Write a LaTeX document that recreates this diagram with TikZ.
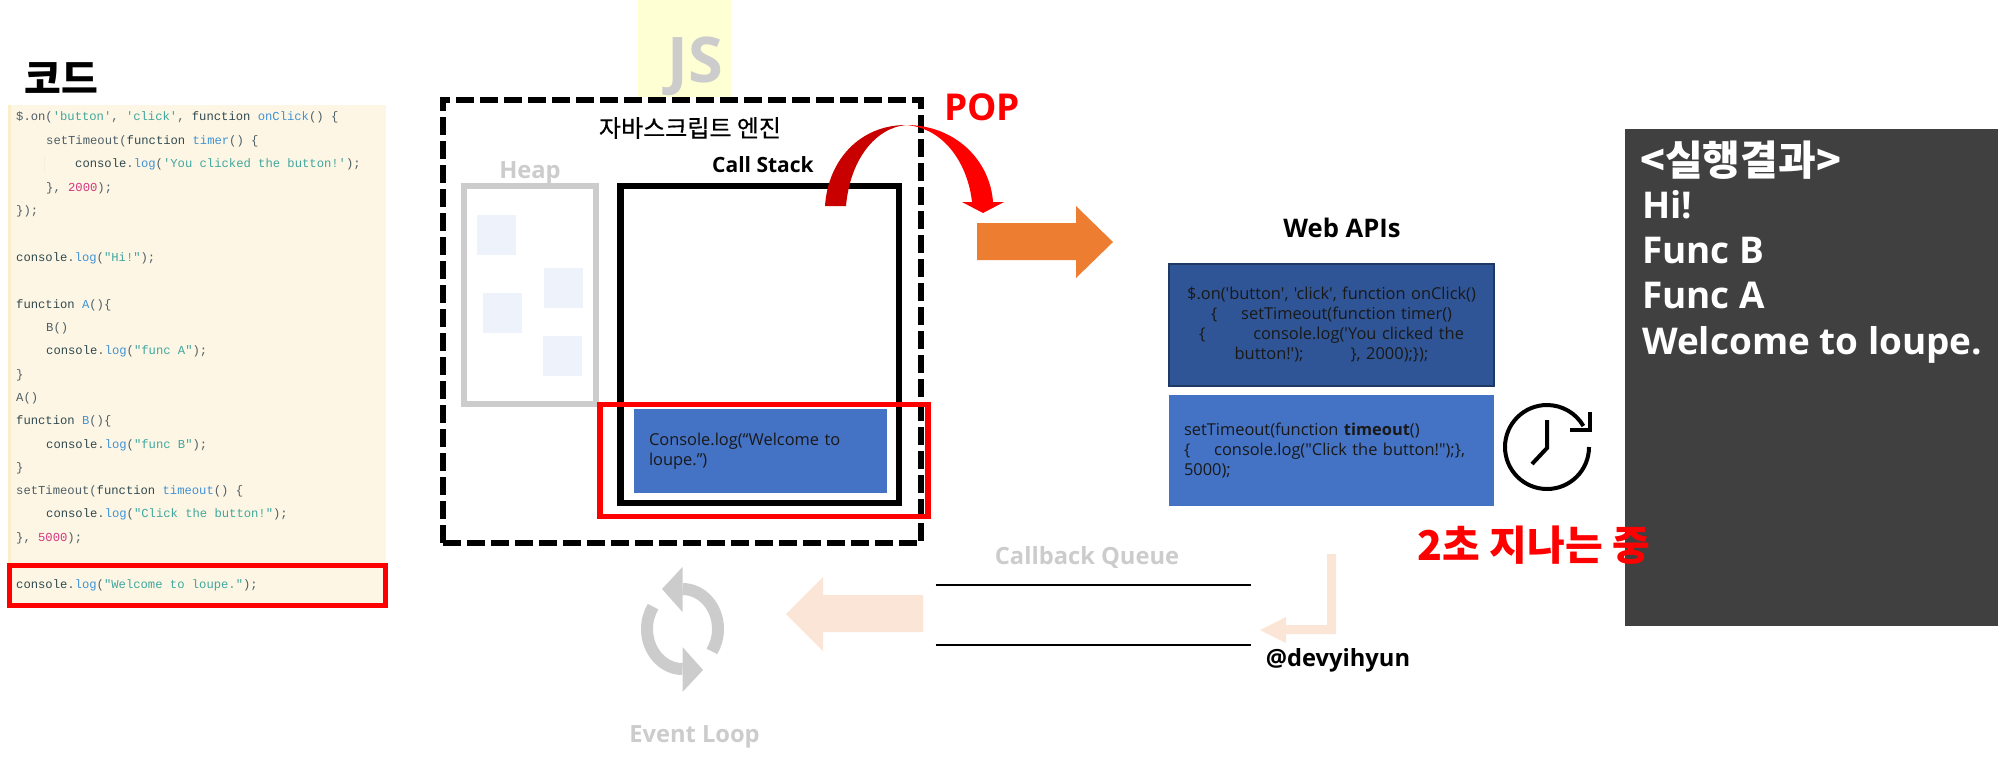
\documentclass[tikz,border=0pt]{standalone}
\usepackage{fontspec}
\usetikzlibrary{positioning}
\newfontfamily\uifont{Open Sans}
\newfontfamily\kofont{Noto Sans CJK KR}
\newfontfamily\komedium{Noto Sans CJK KR}[FakeBold=0.5]
\newfontfamily\codefont{Liberation Mono}
\definecolor{codebg}{HTML}{FEF6E4}
\definecolor{codestrip}{HTML}{FBEFCB}
\definecolor{codeguide}{HTML}{EFE8D6}
\definecolor{codetxt}{HTML}{4E5F66}
\definecolor{codefn}{HTML}{3F93D6}
\definecolor{codestr}{HTML}{3FA79E}
\definecolor{codenum}{HTML}{D33682}
\definecolor{codekey}{HTML}{2F4A50}
\definecolor{jsyellow}{HTML}{FFFFD4}
\definecolor{fadegray}{HTML}{CCCCCC}
\definecolor{heapfill}{HTML}{EEF2FA}
\definecolor{blockblue}{HTML}{4472C4}
\definecolor{darkblue}{HTML}{2F5597}
\definecolor{navyline}{HTML}{1F3864}
\definecolor{orangearrow}{HTML}{ED7D31}
\definecolor{peacharrow}{HTML}{FBE5D6}
\definecolor{darkpanel}{HTML}{404040}
\definecolor{popdark}{HTML}{C90000}
\newcommand{\fnname}[1]{\textcolor{codefn}{#1}}
\newcommand{\strlit}[1]{\textcolor{codestr}{#1}}
\newcommand{\numlit}[1]{\textcolor{codenum}{#1}}
\newcommand{\kwd}[1]{\textcolor{codekey}{#1}}
\tikzset{
  codeline/.style={anchor=west, inner sep=0pt, text=codetxt, font=\codefont\fontsize{12.2}{14}\selectfont},
  framebox/.style={draw, inner sep=0pt},
  blockbox/.style={inner sep=0pt, text=black!90, font=\uifont\fontsize{16.4}{20}\selectfont},
  heapsq/.style={fill=heapfill, inner sep=0pt, minimum width=39pt, minimum height=40pt},
  fadelabel/.style={inner sep=0pt, text=fadegray, font=\uifont\bfseries\fontsize{23.7}{28}\selectfont},
  blacklabel/.style={inner sep=0pt, font=\uifont\bfseries\fontsize{23.7}{28}\selectfont},
  resultline/.style={inner sep=0pt, anchor=base west, text=white, font=\uifont\bfseries\fontsize{36.9}{40}\selectfont},
}
\begin{document}
\begin{tikzpicture}[x=1pt, y=1pt, yscale=-1]
\useasboundingbox (0,0) rectangle (2004,764);

\node[inner sep=0pt, font=\kofont\bfseries\fontsize{40}{44}\selectfont] (codetitle) at (61,78) {코드};
\node[fill=codebg, inner sep=0pt, minimum width=378pt, minimum height=501pt] (codepanel) at (197,355.5) {};
\node[fill=codestrip, inner sep=0pt, minimum width=3pt, minimum height=458pt] (codestrip) at (9.5,334) {};
\coordinate (guidetop) at (44,157);
\coordinate (guidebot) at (44,172);
\draw[codeguide, line width=1pt, densely dotted] (guidetop) -- (guidebot);

\node[codeline] (c1) at (16,117) {\$.on(\strlit{'button'}, \strlit{'click'}, \kwd{function} \fnname{onClick}() \{};
\node[codeline] (c2) at (46,141) {setTimeout(\kwd{function} \fnname{timer}() \{};
\node[codeline] (c3) at (75,164) {\kwd{console}.\fnname{log}(\strlit{'You clicked the button!'});};
\node[codeline] (c4) at (46,188) {\}, \numlit{2000});};
\node[codeline] (c5) at (16,211) {\});};
\node[codeline] (c6) at (16,258) {\kwd{console}.\fnname{log}(\strlit{"Hi!"});};
\node[codeline] (c7) at (16,305) {\kwd{function} \fnname{A}()\{};
\node[codeline] (c8) at (46,328) {B()};
\node[codeline] (c9) at (46,351) {\kwd{console}.\fnname{log}(\strlit{"func A"});};
\node[codeline] (c10) at (16,375) {\}};
\node[codeline] (c11) at (16,398) {A()};
\node[codeline] (c12) at (16,421) {\kwd{function} \fnname{B}()\{};
\node[codeline] (c13) at (46,445) {\kwd{console}.\fnname{log}(\strlit{"func B"});};
\node[codeline] (c14) at (16,468) {\}};
\node[codeline] (c15) at (16,491) {setTimeout(\kwd{function} \fnname{timeout}() \{};
\node[codeline] (c16) at (46,514) {\kwd{console}.\fnname{log}(\strlit{"Click the button!"});};
\node[codeline] (c17) at (16,538) {\}, \numlit{5000});};
\node[codeline] (c18) at (16,585) {\kwd{console}.\fnname{log}(\strlit{"Welcome to loupe."});};
\node[framebox, red, line width=5pt, minimum width=376pt, minimum height=40pt] (coderedbox) at (197.5,585.5) {};

\node[fill=jsyellow, inner sep=0pt, minimum width=93pt, minimum height=97pt] (jsbox) at (684.5,48.5) {};
\node[inner sep=0pt, text=fadegray, font=\uifont\bfseries\fontsize{63}{70}\selectfont] (jslabel) at (695,66) {JS};

\node[framebox, line width=6pt, dash pattern=on 18pt off 6pt, minimum width=478pt, minimum height=443pt] (engine) at (682,321.5) {};
\node[inner sep=0pt, font=\komedium\fontsize{24}{28}\selectfont] (enginelabel) at (690,128) {자바스크립트 엔진};

\node[fadelabel] (heaplabel) at (530,173) {Heap};
\node[framebox, fadegray, line width=6pt, minimum width=131.5pt, minimum height=218pt] (heap) at (530,295) {};
\node[heapsq] (h1) at (496.5,235) {};
\node[heapsq] (h2) at (563.5,287.5) {};
\node[heapsq] (h3) at (502.5,313) {};
\node[heapsq] (h4) at (562.5,356) {};

\node[blacklabel, font=\uifont\bfseries\fontsize{21}{26}\selectfont] (stacklabel) at (763,165) {Call Stack};
\node[framebox, line width=6.5pt, minimum width=278.5pt, minimum height=317pt] (stack) at (759.75,344.5) {};
\node[blockbox, fill=blockblue, align=left, text width=222.5pt, inner xsep=15.5pt, minimum height=84pt] (welcome) at (760.25,451) {Console.log(“Welcome to\\loupe.”)};
\node[framebox, red, line width=5.5pt, minimum width=328pt, minimum height=112pt] (stackred) at (764,460.5) {};

\fill[popdark] (825,206) .. controls (828,160) and (860,125) .. (906,125) .. controls (875,128) and (850,160) .. (846,206) -- cycle;
\fill[red] (906,125) .. controls (955,125) and (990,160) .. (993,202) -- (1004,202) -- (983,213) -- (962,202) -- (972,202) .. controls (968,165) and (945,128) .. (906,125) -- cycle;
\node[inner sep=0pt, text=red, font=\uifont\bfseries\fontsize{37}{40}\selectfont] (poplabel) at (982,107) {POP};

\fill[orangearrow] (977,223) -- (1076,223) -- (1076,206) -- (1113,242) -- (1076,278) -- (1076,260) -- (977,260) -- cycle;

\node[blacklabel, font=\uifont\bfseries\fontsize{25.6}{30}\selectfont] (weblabel) at (1342,228) {Web APIs};
\node[blockbox, framebox, navyline, fill=darkblue, text=black!90, line width=2pt, align=center, text width=315pt, inner xsep=5pt, minimum height=122pt] (onclick) at (1331.5,325) {\$.on('button', 'click', function onClick()\\\{\hspace{24pt}setTimeout(function timer()\\\{\hspace{48pt}console.log('You clicked the\\button!');\hspace{47pt}\}, 2000);\});};
\node[blockbox, fill=blockblue, align=left, text width=295pt, inner xsep=15pt, minimum height=111pt] (timeoutbox) at (1331.5,450.5) {setTimeout(function \textbf{timeout}()\\\{\hspace{24pt}console.log("Click the button!");\},\\5000);};

\draw[line width=4pt] (1589,447) arc[start angle=0, end angle=330, radius=42];
\draw[line width=4pt] (1570,430) -- (1590,430) -- (1590,412);
\draw[line width=4pt] (1547,420) -- (1547,448) -- (1532,464);

\node[fill=darkpanel, inner sep=0pt, minimum width=373pt, minimum height=497pt] (resultpanel) at (1811.5,377.5) {};
\node[inner sep=0pt, anchor=west, text=white, font=\kofont\bfseries\fontsize{41}{44}\selectfont] (r1) at (1640,160) {<실행결과>};
\node[resultline] (r2) at (1642,218) {Hi!};
\node[resultline] (r3) at (1642,263) {Func B};
\node[resultline] (r4) at (1642,308) {Func A};
\node[resultline] (r5) at (1642,354) {Welcome to loupe.};

\node[inner sep=0pt, text=red, font=\kofont\bfseries\fontsize{41}{44}\selectfont] (passing) at (1534,545) {2초 지나는 중};

\node[fadelabel] (queuelabel) at (1087,557) {Callback Queue};
\coordinate (q1a) at (935.5,585);
\coordinate (q1b) at (1251,585);
\coordinate (q2a) at (935.5,645);
\coordinate (q2b) at (1251,645);
\draw[line width=2pt] (q1a) -- (q1b);
\draw[line width=2pt] (q2a) -- (q2b);

\fill[peacharrow] (1336,554) -- (1336,634) -- (1286,634) -- (1286,643) -- (1260,630) -- (1286,617) -- (1286,625) -- (1327,625) -- (1327,554) -- cycle;
\node[blacklabel] (handle) at (1338,660) {@devyihyun};

\fill[peacharrow] (923,595) -- (823,595) -- (823,577) -- (786,614) -- (823,651) -- (823,632) -- (923,632) -- cycle;

\draw[fadegray, line width=12pt] (682.5,589) arc[start angle=270, end angle=394, x radius=35.5, y radius=40];
\draw[fadegray, line width=12pt] (682.5,669) arc[start angle=90, end angle=214, x radius=35.5, y radius=40];
\fill[fadegray] (682.5,567) -- (662,589) -- (682.5,612) -- cycle;
\fill[fadegray] (682.5,647) -- (703,670) -- (682.5,692) -- cycle;
\node[fadelabel] (looplabel) at (694.5,737) {Event Loop};
\end{tikzpicture}
\end{document}
